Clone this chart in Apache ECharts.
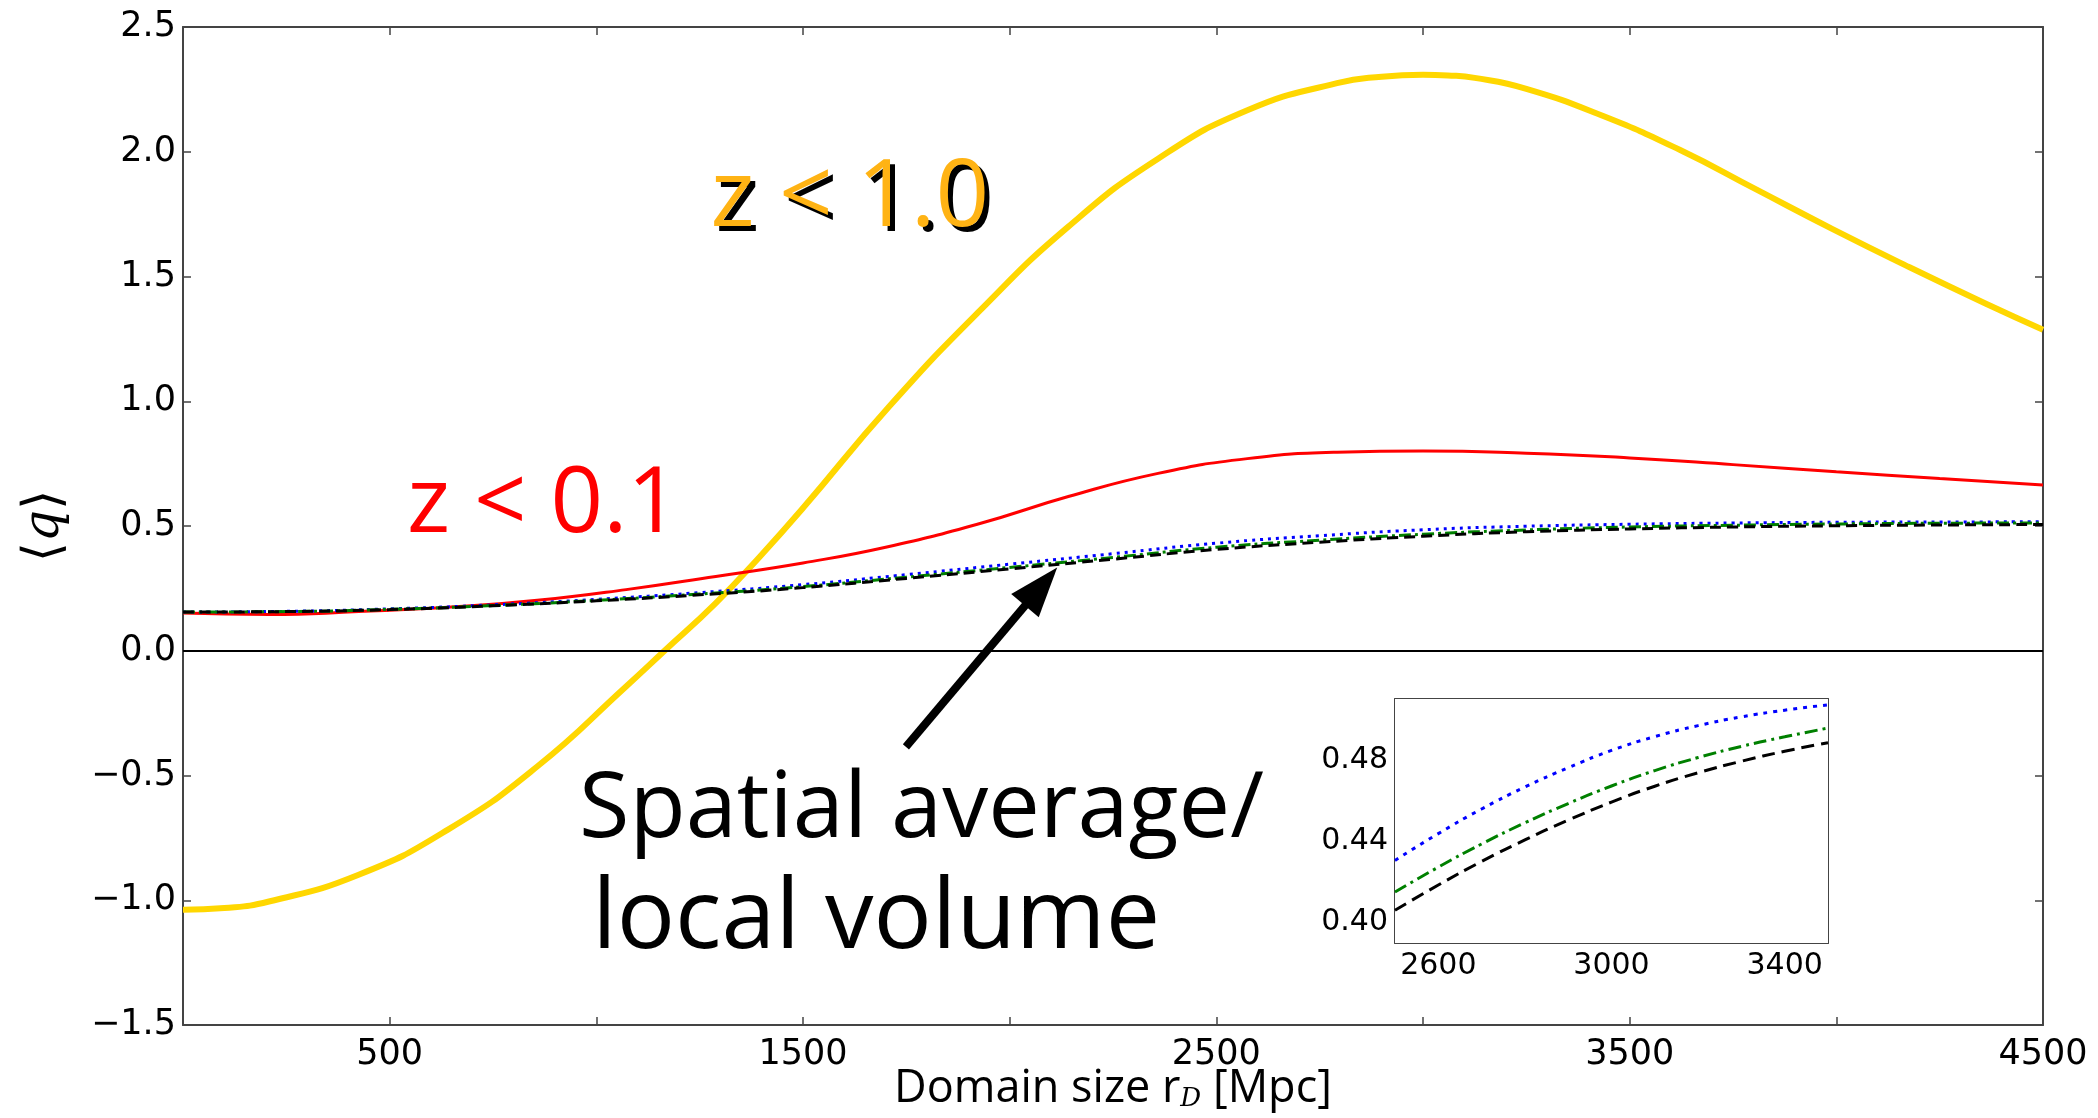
<!DOCTYPE html>
<html>
<head>
<meta charset="utf-8">
<script src="https://cdn.jsdelivr.net/npm/echarts@6/dist/echarts.min.js"></script>
<style>
  html, body { margin: 0; padding: 0; background: #fff; }
  #chart { width: 2098px; height: 1118px; }
</style>
</head>
<body>
<div id="chart"></div>
<script>
// z < 1.0 (yellow): domain size r_D [Mpc] and <q>
const highZSize = [0, 100, 208, 425, 641, 857, 1072, 1165, 1289, 1396, 1500, 1709, 1926, 2142, 2359, 2575, 2792, 2900, 3000, 3060, 3125, 3250, 3436, 3621, 3806, 3991, 4176, 4362, 4500];
const highZQ = [-1.038, -1.031, -1.005, -0.898, -0.717, -0.464, -0.143, 0.0, 0.191, 0.378, 0.572, 0.98, 1.36, 1.70, 1.972, 2.166, 2.275, 2.301, 2.309, 2.306, 2.296, 2.252, 2.143, 2.008, 1.849, 1.690, 1.538, 1.391, 1.287];
// z < 0.1 (red)
const lowZSize = [0, 208, 425, 641, 857, 1072, 1289, 1500, 1700, 1926, 2142, 2359, 2575, 2792, 3000, 3250, 3500, 3750, 4000, 4250, 4500];
const lowZQ = [0.151, 0.145, 0.157, 0.174, 0.202, 0.245, 0.298, 0.352, 0.415, 0.509, 0.618, 0.711, 0.770, 0.796, 0.801, 0.792, 0.773, 0.746, 0.717, 0.690, 0.664];
// spatial average / local volume
const avgSize = [0, 250, 500, 750, 1000, 1250, 1500, 1750, 2000, 2250, 2500, 2750, 3000, 3250, 3500, 3750, 4000, 4250, 4500];
const qBlue = [0.155, 0.158, 0.168, 0.184, 0.206, 0.233, 0.265, 0.305, 0.347, 0.389, 0.431, 0.461, 0.485, 0.499, 0.507, 0.512, 0.515, 0.516, 0.517];
const qGreen = [0.155, 0.157, 0.166, 0.181, 0.202, 0.227, 0.257, 0.295, 0.334, 0.374, 0.415, 0.443, 0.467, 0.484, 0.496, 0.503, 0.508, 0.511, 0.512];
const qBlack = [0.155, 0.157, 0.165, 0.180, 0.200, 0.224, 0.253, 0.290, 0.328, 0.367, 0.406, 0.435, 0.459, 0.477, 0.488, 0.496, 0.501, 0.504, 0.506];

// inset
const insetSize = [2500, 2600, 2700, 2800, 2900, 3000, 3100, 3200, 3300, 3400, 3500];
const insetBlue = [0.4306, 0.4438, 0.4559, 0.4667, 0.4762, 0.4847, 0.4915, 0.4969, 0.5012, 0.5045, 0.5071];
const insetGreen = [0.4151, 0.4273, 0.4387, 0.4491, 0.4586, 0.4672, 0.4748, 0.4812, 0.4867, 0.4914, 0.4957];
const insetBlack = [0.4061, 0.4185, 0.4301, 0.4407, 0.4504, 0.4593, 0.4671, 0.4737, 0.4794, 0.4843, 0.4885];

// tick labels
const xTickLabels = [500, 1500, 2500, 3500, 4500];
const insetXTicks = [2600, 2800, 3000, 3200, 3400];
const insetXLabels = [2600, 3000, 3400];
const insetYTicks = [0.40, 0.42, 0.44, 0.46, 0.48, 0.50];
const insetYLabels = [0.40, 0.44, 0.48];

const pairs = (xs, ys) => xs.map((x, i) => [x, ys[i]]);

const AXIS_COLOR = '#444';
const axisLine = {show: true, onZero: false, lineStyle: {color: AXIS_COLOR, width: 2}};
const tick = (len, extra) => Object.assign({show: true, inside: true, length: len, lineStyle: {color: AXIS_COLOR, width: 1.5}}, extra || {});
const noLabel = {show: false};
const plain = v => String(v);

const chart = echarts.init(document.getElementById('chart'));

const option = {
  animation: false,
  backgroundColor: '#fff',
  grid: [
    {left: 183, top: 27, width: 1860, height: 998, outerBoundsMode: 'none'},
    {left: 1395, top: 699, width: 433, height: 244, outerBoundsMode: 'none', show: true, backgroundColor: '#fff', borderWidth: 0, z: 5}
  ],
  xAxis: [
    {
      gridIndex: 0, type: 'value', position: 'bottom', min: 0, max: 4500, interval: 500,
      axisLine: axisLine, axisTick: tick(8), splitLine: {show: false},
      axisLabel: {customValues: xTickLabels, formatter: plain, margin: 12, color: '#000', fontFamily: 'DejaVu Sans', fontSize: 35},
      name: '{a|Domain size r}{s|D}{a| [Mpc]}', nameLocation: 'middle', nameGap: 42, nameMoveOverlap: false,
      nameTextStyle: {
        rich: {
          a: {fontFamily: 'Open Sans', fontSize: 45, color: '#000'},
          s: {fontFamily: 'DejaVu Serif', fontStyle: 'italic', fontSize: 26, color: '#000', verticalAlign: 'bottom', padding: [16, 0, 0, 0]}
        }
      }
    },
    {
      gridIndex: 0, type: 'value', position: 'top', min: 0, max: 4500, interval: 500,
      axisLine: axisLine, axisTick: tick(8), axisLabel: noLabel, splitLine: {show: false}
    },
    {
      gridIndex: 1, type: 'value', position: 'bottom', min: 2500, max: 3500,
      axisLine: axisLine, axisTick: tick(7, {customValues: insetXTicks}), splitLine: {show: false},
      axisLabel: {customValues: insetXLabels, formatter: plain, margin: 8, color: '#000', fontFamily: 'DejaVu Sans', fontSize: 30}
    },
    {
      gridIndex: 1, type: 'value', position: 'top', min: 2500, max: 3500,
      axisLine: axisLine, axisTick: tick(7, {customValues: insetXTicks}), axisLabel: noLabel, splitLine: {show: false}
    }
  ],
  yAxis: [
    {
      gridIndex: 0, type: 'value', position: 'left', min: -1.5, max: 2.5, interval: 0.5,
      axisLine: axisLine, axisTick: tick(8), splitLine: {show: false},
      axisLabel: {
        margin: 7, color: '#000', fontFamily: 'DejaVu Sans', fontSize: 35,
        formatter: v => (v < 0 ? '\u2212' : '') + Math.abs(v).toFixed(1)
      },
      name: '{b|\u27E8}{q|q}{b|\u27E9}', nameLocation: 'middle', nameGap: 112,
      nameTextStyle: {
        rich: {
          b: {fontFamily: 'DejaVu Sans', fontSize: 52, color: '#000'},
          q: {fontFamily: 'DejaVu Serif', fontStyle: 'italic', fontSize: 50, color: '#000'}
        }
      }
    },
    {
      gridIndex: 0, type: 'value', position: 'right', min: -1.5, max: 2.5, interval: 0.5,
      axisLine: axisLine, axisTick: tick(8), axisLabel: noLabel, splitLine: {show: false}
    },
    {
      gridIndex: 1, type: 'value', position: 'left', min: 0.39, max: 0.51,
      axisLine: axisLine, axisTick: tick(7, {customValues: insetYTicks}), splitLine: {show: false},
      axisLabel: {
        customValues: insetYLabels, margin: 7, color: '#000', fontFamily: 'DejaVu Sans', fontSize: 30,
        formatter: v => v.toFixed(2)
      }
    },
    {
      gridIndex: 1, type: 'value', position: 'right', min: 0.39, max: 0.51,
      axisLine: axisLine, axisTick: tick(7, {customValues: insetYTicks}), axisLabel: noLabel, splitLine: {show: false}
    }
  ],
  series: [
    {
      name: 'z < 1.0', type: 'line', xAxisIndex: 0, yAxisIndex: 0, smooth: true, showSymbol: false,
      data: pairs(highZSize, highZQ), lineStyle: {color: '#FFD700', width: 6}, z: 2
    },
    {
      name: 'z < 0.1', type: 'line', xAxisIndex: 0, yAxisIndex: 0, smooth: true, showSymbol: false,
      data: pairs(lowZSize, lowZQ), lineStyle: {color: '#FF0000', width: 3}, z: 2,
      markLine: {
        silent: true, symbol: 'none', label: {show: false},
        lineStyle: {color: '#000', width: 2, type: 'solid'},
        data: [{yAxis: 0}]
      }
    },
    {
      name: 'blue', type: 'line', xAxisIndex: 0, yAxisIndex: 0, smooth: true, showSymbol: false,
      data: pairs(avgSize, qBlue), lineStyle: {color: '#0000FF', width: 3, type: [3, 5]}, z: 3
    },
    {
      name: 'green', type: 'line', xAxisIndex: 0, yAxisIndex: 0, smooth: true, showSymbol: false,
      data: pairs(avgSize, qGreen), lineStyle: {color: '#008000', width: 3, type: [12, 4, 3, 4]}, z: 3
    },
    {
      name: 'black', type: 'line', xAxisIndex: 0, yAxisIndex: 0, smooth: true, showSymbol: false,
      data: pairs(avgSize, qBlack), lineStyle: {color: '#000', width: 3, type: [11, 6]}, z: 3
    },
    {
      name: 'inset blue', type: 'line', xAxisIndex: 2, yAxisIndex: 2, smooth: true, showSymbol: false,
      data: pairs(insetSize, insetBlue), lineStyle: {color: '#0000FF', width: 3, type: [4, 6]}, z: 6
    },
    {
      name: 'inset green', type: 'line', xAxisIndex: 2, yAxisIndex: 2, smooth: true, showSymbol: false,
      data: pairs(insetSize, insetGreen), lineStyle: {color: '#008000', width: 3, type: [13, 5, 3, 5]}, z: 6
    },
    {
      name: 'inset black', type: 'line', xAxisIndex: 2, yAxisIndex: 2, smooth: true, showSymbol: false,
      data: pairs(insetSize, insetBlack), lineStyle: {color: '#000', width: 3, type: [13, 7]}, z: 6
    }
  ]
};

chart.setOption(option);

// annotations, anchored in data coordinates of the main axes
const toPx = (x, y) => chart.convertToPixel({xAxisIndex: 0, yAxisIndex: 0}, [x, y]);

function label(text, x, y, color, size) {
  const p = toPx(x, y);
  return {
    type: 'text', x: p[0], y: p[1], z: 50,
    style: {text: text, fill: color, fontFamily: 'Open Sans', fontSize: size, align: 'left', verticalAlign: 'middle'}
  };
}

const hi = label('z < 1.0', 1276, 1.81, '#FFB314', 94);
const hiShadow = label('z < 1.0', 1276, 1.81, '#000', 94);
hiShadow.x += 5; hiShadow.y += 5; hiShadow.z = 49;

const tail = toPx(1749, -0.385);
const tip = toPx(2115, 0.334);
const dx = tip[0] - tail[0], dy = tip[1] - tail[1];
const len = Math.sqrt(dx * dx + dy * dy);
const ux = dx / len, uy = dy / len;
const headLen = 50, headHalf = 18;
const base = [tip[0] - ux * headLen, tip[1] - uy * headLen];

chart.setOption({
  graphic: [
    hiShadow,
    hi,
    label('z < 0.1', 542, 0.581, '#FF0000', 92),
    label('Spatial average/', 958, -0.641, '#000', 92),
    label('local volume', 990, -1.082, '#000', 97),
    {
      type: 'line', z: 40,
      shape: {x1: tail[0], y1: tail[1], x2: base[0] + ux * 6, y2: base[1] + uy * 6},
      style: {stroke: '#000', lineWidth: 8}
    },
    {
      type: 'polygon', z: 40,
      shape: {points: [
        tip,
        [base[0] - uy * headHalf, base[1] + ux * headHalf],
        [base[0] + uy * headHalf, base[1] - ux * headHalf]
      ]},
      style: {fill: '#000'}
    }
  ]
});
</script>
</body>
</html>
